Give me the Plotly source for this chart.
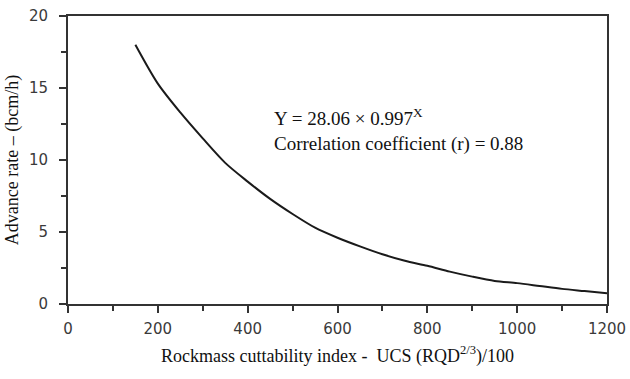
import plotly.graph_objects as go

cuttability_index = [150, 200, 250, 300, 350, 400, 450, 500, 550, 600, 650, 700,
                     750, 800, 850, 900, 950, 1000, 1050, 1100, 1150, 1200]
advance_rate = [18.0, 15.3, 13.3, 11.5, 9.8, 8.5, 7.3, 6.25, 5.3, 4.6, 4.0, 3.45,
                3.0, 2.65, 2.25, 1.9, 1.6, 1.45, 1.25, 1.05, 0.9, 0.75]

x_ticks = [0, 200, 400, 600, 800, 1000, 1200]
y_ticks = [0, 5, 10, 15, 20]

fig = go.Figure()
fig.add_trace(go.Scatter(x=cuttability_index, y=advance_rate, mode="lines",
                         line=dict(color="#1a1a1a", width=2, shape="spline", smoothing=0.8),
                         showlegend=False))

tickfont = dict(family="DejaVu Sans", size=15, color="#3a3a3a")
serif = "Liberation Serif, Times New Roman"

fig.update_layout(
    width=630, height=379,
    margin=dict(l=68, r=23, t=16, b=75),
    paper_bgcolor="white", plot_bgcolor="white",
    xaxis=dict(range=[0, 1200], tickvals=x_ticks, ticktext=[str(v) for v in x_ticks],
               automargin=False,
               showgrid=False, zeroline=False, showline=True, linecolor="#333333",
               linewidth=2, mirror=True, ticks="outside", ticklen=7, tickwidth=2,
               tickcolor="#333333", tickfont=tickfont, ticklabelstandoff=3,
               minor=dict(dtick=100, ticks="outside", ticklen=5, tickwidth=1.5,
                          tickcolor="#333333"),
               title=dict(text="Rockmass cuttability index -  UCS (RQD<sup>2/3</sup>)/100",
                          font=dict(family=serif, size=18, color="#111111"), standoff=12)),
    yaxis=dict(range=[0, 20], tickvals=y_ticks, ticktext=[str(v) for v in y_ticks],
               automargin=False,
               showgrid=False, zeroline=False, showline=True, linecolor="#333333",
               linewidth=2, mirror=True, ticks="outside", ticklen=7, tickwidth=2,
               tickcolor="#333333", tickfont=tickfont, ticklabelstandoff=8,
               minor=dict(dtick=2.5, ticks="outside", ticklen=5, tickwidth=1.5,
                          tickcolor="#333333"),
               title=dict(text="Advance rate – (bcm/h)",
                          font=dict(family=serif, size=18, color="#111111"), standoff=6)),
)

fig.add_annotation(x=0.379, y=0.605, xref="paper", yref="paper", xanchor="left", yanchor="middle",
                   align="left", showarrow=False,
                   text="Y = 28.06 × 0.997<sup>X</sup><br>Correlation coefficient (r) = 0.88",
                   font=dict(family=serif, size=19, color="#111111"))

fig.write_html("out.html")
